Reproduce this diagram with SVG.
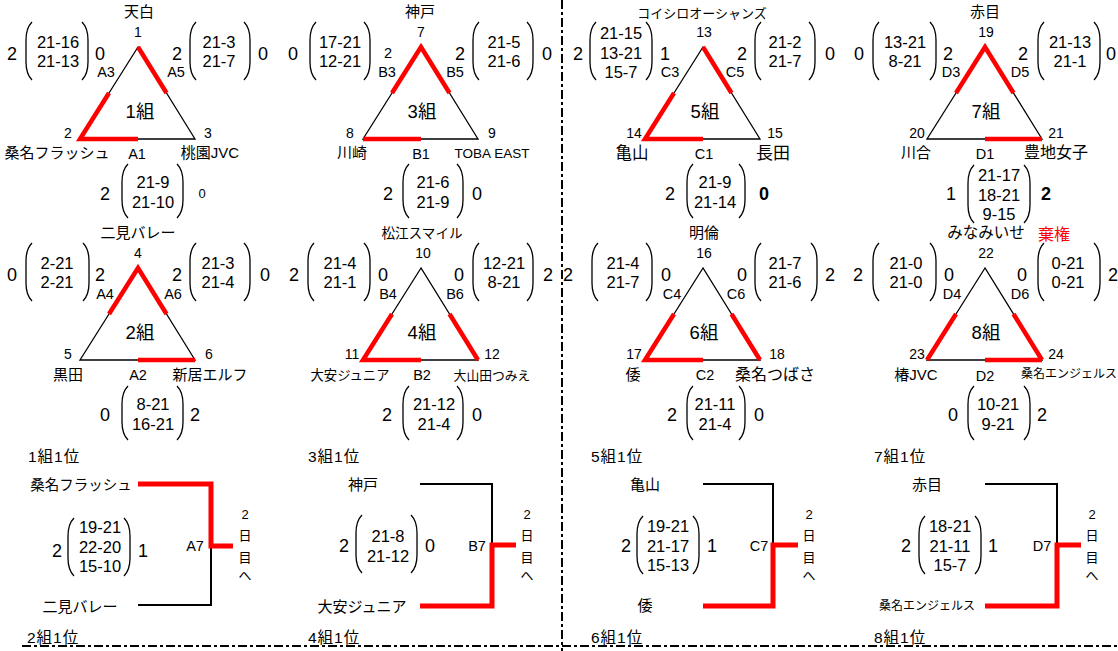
<svg xmlns="http://www.w3.org/2000/svg" width="1118" height="651" viewBox="0 0 1118 651">
<style>
text{font-family:"Liberation Sans","Noto Sans CJK JP",sans-serif;fill:#000;text-anchor:middle}
.nm{font-size:15px}
.sc{font-size:18px}
.in{font-size:16.5px}
.lb{font-size:14.5px}
.vn{font-size:14px}
.gl{font-size:18.5px}
.sm{font-size:13px}
.rk{font-size:15.5px}
.bd{font-weight:bold}
.st{text-anchor:start}
.tri{fill:none;stroke:#000;stroke-width:1.3}
.red{fill:none;stroke:#f00;stroke-width:4.5}
.blk{fill:none;stroke:#000;stroke-width:2}
.rd{fill:none;stroke:#f00;stroke-width:5}
.dv{stroke:#000;stroke-width:2;stroke-dasharray:9 3 3 3}
</style>
<defs>
<path id="pL" d="M6 0C1 5 0 12 0 18L0 40C0 46 1 53 6 58" fill="none" stroke="#000" stroke-width="1.3"/>
<path id="pR" d="M-6 0C-1 5 0 12 0 18L0 40C0 46 -1 53 -6 58" fill="none" stroke="#000" stroke-width="1.3"/>
<path id="bL" d="M6 0C1 5 0 12 0 18L0 36C0 42 1 49 6 54" fill="none" stroke="#000" stroke-width="1.3"/>
<path id="bR" d="M-6 0C-1 5 0 12 0 18L0 36C0 42 -1 49 -6 54" fill="none" stroke="#000" stroke-width="1.3"/>
</defs>
<rect width="1118" height="651" fill="#fff"/>

<g id="dividers">
<line class="dv" x1="562" y1="0" x2="562" y2="651"/>
<line class="dv" x1="22" y1="646" x2="1118" y2="646"/>
</g>

<!-- Group 1 -->
<g id="group1" transform="translate(138,47)">
<path class="tri" d="M0 0L-58 92L57 92Z"/>
<path class="red" d="M-29 46L-58 92H0M0 0L28.5 46"/>
<text class="nm" x="1" y="-30">天白</text>
<text class="vn" x="0" y="-10">1</text>
<text class="sc" x="-126" y="12.5">2</text>
<use href="#pL" x="-112" y="-25"/><use href="#pR" x="-50" y="-25"/>
<text class="in" x="-80" y="1">21-16</text>
<text class="in" x="-80" y="20">21-13</text>
<text class="sc" x="-38" y="12.5">0</text>
<text class="lb" x="-32" y="30">A3</text>
<text class="sc" x="39" y="12.5">2</text>
<use href="#pL" x="52" y="-25"/><use href="#pR" x="112" y="-25"/>
<text class="in" x="81" y="1">21-3</text>
<text class="in" x="81" y="20">21-7</text>
<text class="sc" x="125" y="12.5">0</text>
<text class="lb" x="38" y="30">A5</text>
<text class="gl" x="2" y="71">1組</text>
<text class="vn" x="-70" y="91">2</text>
<text class="vn" x="70" y="91">3</text>
<text class="nm" x="-81" y="111">桑名フラッシュ</text>
<text class="lb" x="-1" y="112">A1</text>
<text class="nm" x="72" y="111">桃園JVC</text>
<text class="sc" x="-33" y="152.5">2</text>
<use href="#bL" x="-16" y="117"/><use href="#bR" x="45" y="117"/>
<text class="in" x="15" y="141">21-9</text>
<text class="in" x="15" y="161">21-10</text>
<text class="sm" x="64" y="151">0</text>
</g>

<!-- Group 3 -->
<g id="group3" transform="translate(421,47)">
<path class="tri" d="M0 0L-58 92L57 92Z"/>
<path class="red" d="M-29 46L0 0L28.5 46M-58 92H0"/>
<text class="nm" x="-1" y="-30">神戸</text>
<text class="vn" x="0" y="-10">7</text>
<text class="sc" x="-128" y="12.5">0</text>
<use href="#pL" x="-111" y="-25"/><use href="#pR" x="-51" y="-25"/>
<text class="in" x="-81" y="1">17-21</text>
<text class="in" x="-81" y="20">12-21</text>
<text class="lb" x="-33" y="11">2</text>
<text class="lb" x="-34" y="30">B3</text>
<text class="sc" x="39" y="12.5">2</text>
<use href="#pL" x="52" y="-25"/><use href="#pR" x="112" y="-25"/>
<text class="in" x="83" y="1">21-5</text>
<text class="in" x="83" y="20">21-6</text>
<text class="sc" x="126" y="12.5">0</text>
<text class="lb" x="34" y="30">B5</text>
<text class="gl" x="1" y="71">3組</text>
<text class="vn" x="-71" y="91">8</text>
<text class="vn" x="71" y="91">9</text>
<text class="nm" x="-69" y="111">川崎</text>
<text class="lb" x="0" y="112">B1</text>
<text class="sm" x="71" y="111" style="font-size:13.5px">TOBA EAST</text>
<text class="sc" x="-33" y="152.5">2</text>
<use href="#bL" x="-18" y="117"/><use href="#bR" x="42" y="117"/>
<text class="in" x="12" y="141">21-6</text>
<text class="in" x="12" y="161">21-9</text>
<text class="sc" x="56" y="152.5">0</text>
</g>

<!-- Group 5 -->
<g id="group5" transform="translate(703,47)">
<path class="tri" d="M0 0L-58 92L57 92Z"/>
<path class="red" d="M0 0L28.5 46M-29 46L-58 92H0"/>
<text class="sm" x="-1" y="-29">コイシロオーシャンズ</text>
<text class="vn" x="1" y="-10">13</text>
<text class="sc" x="-125" y="12.5">2</text>
<use href="#pL" x="-113" y="-25"/><use href="#pR" x="-51" y="-25"/>
<text class="in" x="-82" y="-8">21-15</text>
<text class="in" x="-82" y="12">13-21</text>
<text class="in" x="-82" y="31">15-7</text>
<text class="sc" x="-38" y="12.5">1</text>
<text class="lb" x="-33" y="30">C3</text>
<text class="sc" x="39" y="12.5">2</text>
<use href="#pL" x="52" y="-25"/><use href="#pR" x="112" y="-25"/>
<text class="in" x="82" y="1">21-2</text>
<text class="in" x="82" y="20">21-7</text>
<text class="sc" x="127" y="12.5">0</text>
<text class="lb" x="32" y="30">C5</text>
<text class="gl" x="2" y="71">5組</text>
<text class="vn" x="-69" y="91">14</text>
<text class="vn" x="72" y="91">15</text>
<text x="-71" y="112" style="font-size:16.5px">亀山</text>
<text class="lb" x="1" y="112">C1</text>
<text x="70" y="112" style="font-size:17px">長田</text>
<text class="sc" x="-33" y="152.5">2</text>
<use href="#bL" x="-16" y="117"/><use href="#bR" x="42" y="117"/>
<text class="in" x="12" y="141">21-9</text>
<text class="in" x="12" y="161">21-14</text>
<text class="sc bd" x="61" y="152.5">0</text>
</g>

<!-- Group 7 -->
<g id="group7" transform="translate(985,47)">
<path class="tri" d="M0 0L-58 92L57 92Z"/>
<path class="red" d="M-29 46L0 0L28.5 46M0 92H57"/>
<text class="nm" x="0" y="-30">赤目</text>
<text class="vn" x="1" y="-10">19</text>
<text class="sc" x="-126" y="12.5">0</text>
<use href="#pL" x="-112" y="-25"/><use href="#pR" x="-49" y="-25"/>
<text class="in" x="-80" y="1">13-21</text>
<text class="in" x="-80" y="20">8-21</text>
<text class="sc" x="-37" y="12.5">2</text>
<text class="lb" x="-34" y="30">D3</text>
<text class="sc" x="38" y="12.5">2</text>
<use href="#pL" x="53" y="-25"/><use href="#pR" x="115" y="-25"/>
<text class="in" x="85" y="1">21-13</text>
<text class="in" x="85" y="20">21-1</text>
<text class="sc" x="126" y="12.5">0</text>
<text class="lb" x="35" y="30">D5</text>
<text class="gl" x="1" y="71">7組</text>
<text class="vn" x="-68" y="91">20</text>
<text class="vn" x="71" y="91">21</text>
<text class="nm" x="-69" y="111">川合</text>
<text class="lb" x="0" y="112">D1</text>
<text x="71" y="111" style="font-size:16px">豊地女子</text>
<text class="sc" x="-34" y="152.5">1</text>
<use href="#pL" x="-17" y="118"/><use href="#pR" x="45" y="118"/>
<text class="in" x="14" y="134">21-17</text>
<text class="in" x="14" y="154">18-21</text>
<text class="in" x="14" y="173">9-15</text>
<text class="sc bd" x="61" y="152.5">2</text>
</g>

<!-- Group 2 -->
<g id="group2" transform="translate(138,268)">
<path class="tri" d="M0 0L-58 92L57 92Z"/>
<path class="red" d="M-29 46L0 0L28.5 46M0 92H57"/>
<text class="nm" x="0" y="-30">二見バレー</text>
<text class="vn" x="0" y="-10">4</text>
<text class="sc" x="-126" y="12.5">0</text>
<use href="#pL" x="-112" y="-25"/><use href="#pR" x="-49" y="-25"/>
<text class="in" x="-81" y="1">2-21</text>
<text class="in" x="-81" y="20">2-21</text>
<text class="sc" x="-38" y="12.5">2</text>
<text class="lb" x="-33" y="31">A4</text>
<text class="sc" x="39" y="12.5">2</text>
<use href="#pL" x="52" y="-25"/><use href="#pR" x="112" y="-25"/>
<text class="in" x="80" y="1">21-3</text>
<text class="in" x="80" y="20">21-4</text>
<text class="sc" x="127" y="12.5">0</text>
<text class="lb" x="35" y="31">A6</text>
<text class="gl" x="2" y="71">2組</text>
<text class="vn" x="-70" y="91">5</text>
<text class="vn" x="71" y="91">6</text>
<text class="nm" x="-70" y="112">黒田</text>
<text class="lb" x="0" y="112">A2</text>
<text class="nm" x="72" y="112">新居エルフ</text>
<text class="sc" x="-33" y="153">0</text>
<use href="#bL" x="-16" y="118"/><use href="#bR" x="45" y="118"/>
<text class="in" x="15" y="142">8-21</text>
<text class="in" x="15" y="162">16-21</text>
<text class="sc" x="57" y="153">2</text>
</g>

<!-- Group 4 -->
<g id="group4" transform="translate(421,268)">
<path class="tri" d="M0 0L-58 92L57 92Z"/>
<path class="red" d="M-29 46L-58 92H0M28.5 46L57 92"/>
<text x="1" y="-30" style="font-size:13.6px">松江スマイル</text>
<text class="vn" x="2" y="-10">10</text>
<text class="sc" x="-127" y="12.5">2</text>
<use href="#pL" x="-113" y="-25"/><use href="#pR" x="-51" y="-25"/>
<text class="in" x="-81" y="1">21-4</text>
<text class="in" x="-81" y="20">21-1</text>
<text class="sc" x="-38" y="12.5">0</text>
<text class="lb" x="-33" y="31">B4</text>
<text class="sc" x="38" y="12.5">0</text>
<use href="#pL" x="52" y="-25"/><use href="#pR" x="112" y="-25"/>
<text class="in" x="83" y="1">12-21</text>
<text class="in" x="83" y="20">8-21</text>
<text class="sc" x="127" y="12.5">2</text>
<text class="lb" x="34" y="31">B6</text>
<text class="gl" x="1" y="71">4組</text>
<text class="vn" x="-69" y="91">11</text>
<text class="vn" x="71" y="91">12</text>
<text x="-71" y="112" style="font-size:13.3px">大安ジュニア</text>
<text class="lb" x="1" y="112">B2</text>
<text x="71" y="112" style="font-size:12.8px">大山田つみえ</text>
<text class="sc" x="-34" y="153">2</text>
<use href="#bL" x="-18" y="118"/><use href="#bR" x="42" y="118"/>
<text class="in" x="13" y="142">21-12</text>
<text class="in" x="13" y="162">21-4</text>
<text class="sc" x="56" y="153">0</text>
</g>

<!-- Group 6 -->
<g id="group6" transform="translate(703,268)">
<path class="tri" d="M0 0L-58 92L57 92Z"/>
<path class="red" d="M-29 46L-58 92H0M28.5 46L57 92"/>
<text class="nm" x="1" y="-30">明倫</text>
<text class="vn" x="1" y="-10">16</text>
<text class="sc" x="-135" y="12.5">2</text>
<use href="#pL" x="-111" y="-25"/><use href="#pR" x="-51" y="-25"/>
<text class="in" x="-80" y="1">21-4</text>
<text class="in" x="-80" y="20">21-7</text>
<text class="sc" x="-37" y="12.5">0</text>
<text class="lb" x="-31" y="31">C4</text>
<text class="sc" x="39" y="12.5">0</text>
<use href="#pL" x="52" y="-25"/><use href="#pR" x="114" y="-25"/>
<text class="in" x="82" y="1">21-7</text>
<text class="in" x="82" y="20">21-6</text>
<text class="sc" x="127" y="12.5">2</text>
<text class="lb" x="33" y="31">C6</text>
<text class="gl" x="1" y="71">6組</text>
<text class="vn" x="-69" y="91">17</text>
<text class="vn" x="74" y="91">18</text>
<text class="nm" x="-70" y="112">倭</text>
<text class="lb" x="2" y="112">C2</text>
<text x="72" y="112" style="font-size:16px">桑名つばさ</text>
<text class="sc" x="-31" y="153">2</text>
<use href="#bL" x="-16" y="118"/><use href="#bR" x="42" y="118"/>
<text class="in" x="12" y="142">21-11</text>
<text class="in" x="12" y="162">21-4</text>
<text class="sc" x="56" y="153">0</text>
</g>

<!-- Group 8 -->
<g id="group8" transform="translate(985,268)">
<path class="tri" d="M0 0L-58 92L57 92Z"/>
<path class="red" d="M-29 46L-58 92M28.5 46L57 92M0 92H57"/>
<text x="1" y="-30" style="font-size:15.5px">みなみいせ</text>
<text x="69" y="-28" style="font-size:16px;fill:#f00">棄権</text>
<text class="vn" x="1" y="-10">22</text>
<text class="sc" x="-127" y="12.5">2</text>
<use href="#pL" x="-112" y="-25"/><use href="#pR" x="-49" y="-25"/>
<text class="in" x="-79" y="1">21-0</text>
<text class="in" x="-79" y="20">21-0</text>
<text class="sc" x="-36" y="12.5">0</text>
<text class="lb" x="-33" y="31">D4</text>
<text class="sc" x="37" y="12.5">0</text>
<use href="#pL" x="53" y="-25"/><use href="#pR" x="115" y="-25"/>
<text class="in" x="83" y="1">0-21</text>
<text class="in" x="83" y="20">0-21</text>
<text class="sc" x="128" y="12.5">2</text>
<text class="lb" x="35" y="31">D6</text>
<text class="gl" x="1" y="71">8組</text>
<text class="vn" x="-68" y="91">23</text>
<text class="vn" x="71" y="91">24</text>
<text class="nm" x="-69" y="112">椿JVC</text>
<text class="lb" x="0" y="113">D2</text>
<text class="st" x="36" y="110" style="font-size:12px">桑名エンジェルス</text>
<text class="sc" x="-32" y="153">0</text>
<use href="#bL" x="-17" y="118"/><use href="#bR" x="45" y="118"/>
<text class="in" x="13" y="142">10-21</text>
<text class="in" x="13" y="162">9-21</text>
<text class="sc" x="57" y="153">2</text>
</g>

<g id="connectors">
<path class="blk" d="M211 546V605H138"/>
<path class="rd" d="M138 484H211V546H233"/>
<path class="blk" d="M420 484H492V545"/>
<path class="rd" d="M516 545H492V606H420"/>
<path class="blk" d="M703 484H773V545"/>
<path class="rd" d="M798 545H773V606H703"/>
<path class="blk" d="M985 484H1057V545"/>
<path class="rd" d="M1081 545H1057V606H985"/>
</g>

<!-- Final A7 -->
<g id="matchA7">
<text class="rk st" x="28" y="462" letter-spacing="1">1組1位</text>
<text x="81" y="490" style="font-size:14.5px">桑名フラッシュ</text>
<text class="sc" x="57" y="556.5">2</text>
<use href="#pL" x="68" y="518"/><use href="#pR" x="130" y="518"/>
<text class="in" x="100" y="533">19-21</text>
<text class="in" x="100" y="553">22-20</text>
<text class="in" x="100" y="572">15-10</text>
<text class="sc" x="143" y="556.5">1</text>
<text class="lb" x="195" y="551">A7</text>
<text class="sm" x="245" y="519">2</text>
<text class="sm" x="245" y="540">日</text>
<text class="sm" x="245" y="562">目</text>
<text class="sm" x="245" y="580">へ</text>
<text class="nm" x="80" y="612">二見バレー</text>
<text class="rk st" x="27" y="643" letter-spacing="1">2組1位</text>
</g>

<!-- Final B7 -->
<g id="matchB7">
<text class="rk st" x="308" y="462" letter-spacing="1">3組1位</text>
<text class="nm" x="363" y="490">神戸</text>
<text class="sc" x="344" y="551.5">2</text>
<use href="#pL" x="356" y="515"/><use href="#pR" x="417" y="515"/>
<text class="in" x="388" y="542">21-8</text>
<text class="in" x="388" y="562">21-12</text>
<text class="sc" x="430" y="551.5">0</text>
<text class="lb" x="477" y="551">B7</text>
<text class="sm" x="527" y="519">2</text>
<text class="sm" x="527" y="540">日</text>
<text class="sm" x="527" y="562">目</text>
<text class="sm" x="527" y="580">へ</text>
<text class="nm" x="362" y="611.5">大安ジュニア</text>
<text class="rk st" x="308" y="643" letter-spacing="1">4組1位</text>
</g>

<!-- Final C7 -->
<g id="matchC7">
<text class="rk st" x="591" y="462" letter-spacing="1">5組1位</text>
<text class="nm" x="645" y="490">亀山</text>
<text class="sc" x="626" y="552">2</text>
<use href="#pL" x="637" y="516"/><use href="#pR" x="699" y="516"/>
<text class="in" x="668" y="532">19-21</text>
<text class="in" x="668" y="552">21-17</text>
<text class="in" x="668" y="571">15-13</text>
<text class="sc" x="712" y="552">1</text>
<text class="lb" x="759" y="551">C7</text>
<text class="sm" x="809" y="519">2</text>
<text class="sm" x="809" y="540">日</text>
<text class="sm" x="809" y="562">目</text>
<text class="sm" x="809" y="580">へ</text>
<text class="nm" x="645" y="610.5">倭</text>
<text class="rk st" x="591" y="643" letter-spacing="1">6組1位</text>
</g>

<!-- Final D7 -->
<g id="matchD7">
<text class="rk st" x="874" y="462" letter-spacing="1">7組1位</text>
<text class="nm" x="927" y="490">赤目</text>
<text class="sc" x="906" y="552">2</text>
<use href="#pL" x="919" y="516"/><use href="#pR" x="981" y="516"/>
<text class="in" x="950" y="532">18-21</text>
<text class="in" x="950" y="552">21-11</text>
<text class="in" x="950" y="571">15-7</text>
<text class="sc" x="993" y="552">1</text>
<text class="lb" x="1042" y="551">D7</text>
<text class="sm" x="1092" y="519">2</text>
<text class="sm" x="1092" y="540">日</text>
<text class="sm" x="1092" y="562">目</text>
<text class="sm" x="1092" y="580">へ</text>
<text x="927" y="610" style="font-size:12px">桑名エンジェルス</text>
<text class="rk st" x="874" y="643" letter-spacing="1">8組1位</text>
</g>
</svg>
